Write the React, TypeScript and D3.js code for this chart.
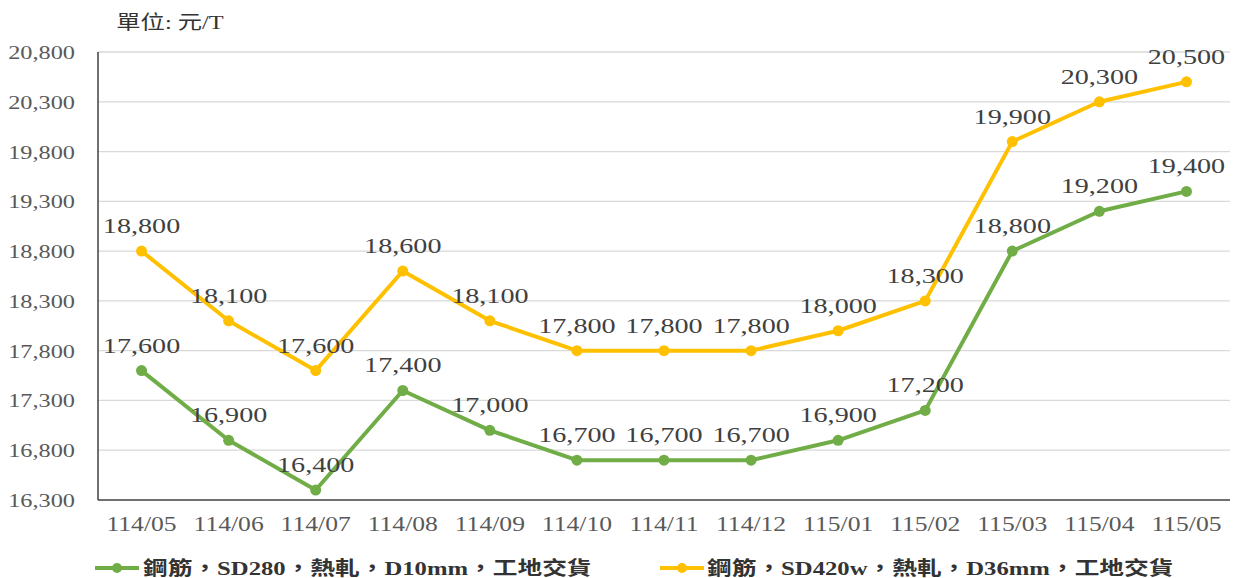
import React from "react";
import * as d3 from "d3";

const categories = ["114/05","114/06","114/07","114/08","114/09","114/10","114/11","114/12","115/01","115/02","115/03","115/04","115/05"];
const sd280 = [17600,16900,16400,17400,17000,16700,16700,16700,16900,17200,18800,19200,19400];
const sd420 = [18800,18100,17600,18600,18100,17800,17800,17800,18000,18300,19900,20300,20500];
const yTicks = [16300,16800,17300,17800,18300,18800,19300,19800,20300,20800];
const seriesNames = ["鋼筋，SD280，熱軋，D10mm，工地交貨","鋼筋，SD420w，熱軋，D36mm，工地交貨"];
const colors = ["#70AD47","#FFC000"];
const unitLabel = "單位: 元/T";

const W = 1239, H = 578;
const L = 98, R = 1230, T = 52, B = 500;
const SX = 1.28;
const FONT = "'Liberation Serif','Times New Roman','Noto Sans CJK TC',serif";

function T2({x, y, anchor = "middle", size, color, weight = "normal", children}: any) {
  return (
    <text transform={`translate(${x},${y}) scale(${SX},1)`} textAnchor={anchor}
      fontSize={size} fill={color} fontWeight={weight} fontFamily={FONT}>{children}</text>
  );
}

export default function App() {
  const x = d3.scaleBand().domain(categories).range([L, R]);
  const y = d3.scaleLinear().domain([16300, 20800]).range([B, T]);
  const cx = (c: string) => (x(c) as number) + x.bandwidth() / 2;
  const line = d3.line<number>().x((_, i) => cx(categories[i])).y(v => y(v)).curve(d3.curveLinear);
  const fmt = d3.format(",");
  const series = [sd280, sd420];
  return (
    <svg width={W} height={H} style={{position: "absolute", left: 0, top: 0, background: "#fff"}}>
      <rect width={W} height={H} fill="#fff" />
      <T2 x={170} y={29} size={19} color="#333">{unitLabel}</T2>
      {yTicks.map(t => (
        <g key={t}>
          {t !== 16300 && <line x1={L} x2={R} y1={y(t)} y2={y(t)} stroke="#d9d9d9" strokeWidth={1.3} />}
          <T2 x={75} y={y(t) + 7} anchor="end" size={19} color="#595959">{fmt(t)}</T2>
        </g>
      ))}
      <line x1={L} x2={L} y1={T} y2={B} stroke="#404040" strokeWidth={1.5} />
      <line x1={L} x2={R} y1={B} y2={B} stroke="#404040" strokeWidth={1.5} />
      {categories.map(c => (
        <T2 key={c} x={cx(c)} y={531} size={20} color="#595959">{c}</T2>
      ))}
      {series.map((s, si) => (
        <g key={si}>
          <path d={line(s) as string} fill="none" stroke={colors[si]} strokeWidth={4} strokeLinejoin="round" strokeLinecap="round" />
          {s.map((v, i) => (
            <circle key={i} cx={cx(categories[i])} cy={y(v)} r={5.5} fill={colors[si]} />
          ))}
        </g>
      ))}
      {series.map((s, si) => (
        <g key={"l" + si}>
          {s.map((v, i) => (
            <T2 key={i} x={cx(categories[i])} y={y(v) - 18} size={22} color="#404040">{fmt(v)}</T2>
          ))}
        </g>
      ))}
      {[{lx: 95, tx: 143}, {lx: 660, tx: 707}].map((p, i) => (
        <g key={"lg" + i}>
          <line x1={p.lx} x2={p.lx + 44} y1={568} y2={568} stroke={colors[i]} strokeWidth={4} />
          <circle cx={p.lx + 22} cy={568} r={5} fill={colors[i]} />
          <T2 x={p.tx} y={575} anchor="start" size={19.3} color="#333" weight="bold">{seriesNames[i]}</T2>
        </g>
      ))}
    </svg>
  );
}
